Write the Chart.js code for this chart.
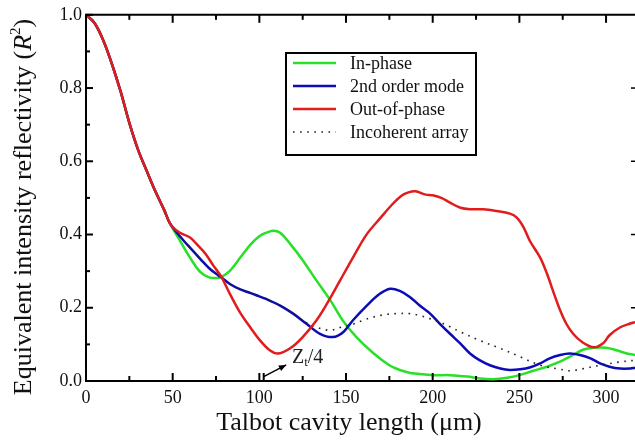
<!DOCTYPE html>
<html>
<head>
<meta charset="utf-8">
<script src="https://cdn.jsdelivr.net/npm/chart.js@4.4.1/dist/chart.umd.min.js"></script>
<style>
html,body{margin:0;padding:0;background:#fff;}
canvas{display:block;}
</style>
</head>
<body>
<canvas id="c" width="635" height="440"></canvas>
<script>
// ---- data ----
const xTickValues = [0, 50, 100, 150, 200, 250, 300];
const xTickLabels = ["0", "50", "100", "150", "200", "250", "300"];
const yTickValues = [0, 0.2, 0.4, 0.6, 0.8, 1.0];
const yTickLabels = ["0.0", "0.2", "0.4", "0.6", "0.8", "1.0"];

const sharedX = [0, 5, 10, 15, 20, 25, 30, 35, 40, 45, 48];
const sharedY = [1.0, 0.977, 0.93, 0.865, 0.79, 0.705, 0.632, 0.574, 0.518, 0.468, 0.434];

const inPhaseX = [...sharedX, 50,54,60,66,71,75,78,83,89,95, 100,104,108,112,118,125,133,141,148,156, 166,175,181,187,191,200,210,220,227,235, 243,250,258,266,273,281,287,293,300,306, 312,317];
const inPhaseY = [...sharedY, 0.417,0.385,0.337,0.297,0.283,0.281,0.284,0.301,0.337,0.373, 0.395,0.405,0.410,0.405,0.373,0.330,0.274,0.220,0.166,0.120, 0.075,0.043,0.030,0.022,0.020,0.016,0.016,0.012,0.007,0.005, 0.009,0.016,0.028,0.039,0.052,0.071,0.086,0.091,0.091,0.084, 0.075,0.071];

const secondOrderX = [...sharedX, 50,54,60,66,71.5,78,83,89,95,100, 104,112,119.5,127,135,142.5,148.5,154,162,169.5, 175.5,181,187,192.5,198.5,204,210,216,221.5,227, 233,239,244.5,250.5,256,262,267.5,273.5,279,285, 291,296.5,302,308,314,317];
const secondOrderY = [...sharedY, 0.420,0.396,0.364,0.333,0.306,0.283,0.265,0.250,0.240,0.231, 0.224,0.206,0.184,0.157,0.129,0.120,0.134,0.166,0.206,0.238, 0.252,0.246,0.229,0.206,0.184,0.157,0.129,0.102,0.075,0.057, 0.043,0.034,0.030,0.032,0.037,0.048,0.062,0.071,0.075,0.071, 0.062,0.048,0.039,0.034,0.034,0.036];

const outOfPhaseX = [...sharedX, 50,54,60,64,69,73.5,78,83,89,95, 100,106,111,118,125,133,139,146.5,154,162, 170,177,182,186,190,196,200,205,210,216, 221.5,229,237,244.5,248.5,252.5,256,262,266,270, 273.5,277,281,286,293,298.5,302,308,314,317];
const outOfPhaseY = [...sharedY, 0.420,0.405,0.392,0.373,0.347,0.315,0.285,0.238,0.186,0.145, 0.113,0.084,0.075,0.090,0.120,0.166,0.211,0.274,0.337,0.401, 0.446,0.484,0.506,0.515,0.518,0.509,0.507,0.500,0.487,0.473, 0.469,0.469,0.464,0.457,0.446,0.419,0.383,0.337,0.292,0.238, 0.193,0.157,0.129,0.107,0.092,0.104,0.125,0.146,0.157,0.161];

const incoherentX = [...sharedX, 50,54,60,66,71.5,78,83,89,95,100, 104,112,119.5,125,129,134,139,142,146.5,154, 160,166,172,179,187,192.5,198,204,210,216, 227,239,250.5,262,273.5,279,285,296.5,308,317];
const incoherentY = [...sharedY, 0.420,0.396,0.364,0.333,0.306,0.283,0.265,0.250,0.240,0.231, 0.224,0.206,0.184,0.165,0.155,0.145,0.139,0.139,0.146,0.155, 0.166,0.175,0.181,0.184,0.184,0.179,0.171,0.161,0.148,0.134, 0.111,0.089,0.066,0.043,0.032,0.028,0.032,0.043,0.052,0.057];

const seriesLabels = ["In-phase", "2nd order mode", "Out-of-phase", "Incoherent array"];
const markerX = 102.5;           // Zt/4 position on the x axis
const markerLabel = ["Z", "t", "/4"];
const xTitle = "Talbot cavity length (\u03bcm)";
const yTitleParts = ["Equivalent intensity reflectivity (", "R", "2", ")"];

// ---- build ----
const zip = (xs, ys) => xs.map((v, i) => ({x: v, y: ys[i]}));
const SERIF = "'Liberation Serif', 'Times New Roman', serif";
const colors = ["#27e027", "#0b0bb8", "#e01c1c", "#222222"];

const datasets = [
  {label: seriesLabels[0], data: zip(inPhaseX, inPhaseY), borderColor: colors[0], borderWidth: 2.5, order: 3},
  {label: seriesLabels[1], data: zip(secondOrderX, secondOrderY), borderColor: colors[1], borderWidth: 2.5, order: 2},
  {label: seriesLabels[2], data: zip(outOfPhaseX, outOfPhaseY), borderColor: colors[2], borderWidth: 2.5, order: 0},
  {label: seriesLabels[3], data: zip(incoherentX, incoherentY), borderColor: colors[3], borderWidth: 1.6, borderDash: [1.6, 5.5], order: 1}
].map(d => Object.assign(d, {pointRadius: 0, fill: false, tension: 0.35}));

function seg(ctx, x1, y1, x2, y2) { ctx.beginPath(); ctx.moveTo(x1, y1); ctx.lineTo(x2, y2); ctx.stroke(); }

const deco = {
  id: 'deco',
  afterDraw(chart) {
    const {ctx, chartArea: a, scales: {x, y}} = chart;
    ctx.save();
    ctx.strokeStyle = '#000';
    ctx.fillStyle = '#000';
    ctx.lineWidth = 2;
    // top axis line
    seg(ctx, a.left - 1, a.top, a.right, a.top);
    // x ticks (bottom & top, inward)
    for (let v = 0; v <= 325; v += 25) {
      const px = x.getPixelForValue(v);
      if (px > a.right + 1) continue;
      const len = (v % 50 === 0) ? 8 : 5;
      seg(ctx, px, a.bottom, px, a.bottom - len);
      seg(ctx, px, a.top, px, a.top + len);
    }
    // y ticks (left, inward) + right-edge stubs
    for (let i = 0; i <= 10; i++) {
      const v = i / 10;
      const py = y.getPixelForValue(v);
      const len = (i % 2 === 0) ? 7 : 4;
      seg(ctx, a.left, py, a.left + len, py);
      if (i % 2 === 0 && i > 0 && i < 10) { ctx.lineWidth = 1.5; seg(ctx, a.right - 4, py, a.right, py); ctx.lineWidth = 2; }
    }
    // Zt/4 marker tick + arrow
    const mx = x.getPixelForValue(markerX);
    seg(ctx, mx, a.bottom, mx, a.bottom - 8);
    const ax1 = mx, ay1 = y.getPixelForValue(0.012);
    const ax2 = x.getPixelForValue(115.5), ay2 = y.getPixelForValue(0.044);
    ctx.lineWidth = 1.5;
    seg(ctx, ax1, ay1, ax2, ay2);
    const ang = Math.atan2(ay2 - ay1, ax2 - ax1);
    ctx.beginPath();
    ctx.moveTo(ax2, ay2);
    ctx.lineTo(ax2 - 8 * Math.cos(ang - 0.4), ay2 - 8 * Math.sin(ang - 0.4));
    ctx.lineTo(ax2 - 8 * Math.cos(ang + 0.4), ay2 - 8 * Math.sin(ang + 0.4));
    ctx.closePath(); ctx.fill();
    // Zt/4 text
    let tx = x.getPixelForValue(118.8), ty = y.getPixelForValue(0.049);
    ctx.textBaseline = 'alphabetic'; ctx.textAlign = 'left';
    ctx.font = `20px ${SERIF}`; ctx.fillStyle = '#222';
    ctx.fillText(markerLabel[0], tx, ty); tx += ctx.measureText(markerLabel[0]).width;
    ctx.font = `13px ${SERIF}`; ctx.fillText(markerLabel[1], tx, ty + 3); tx += ctx.measureText(markerLabel[1]).width;
    ctx.font = `20px ${SERIF}`; ctx.fillText(markerLabel[2], tx, ty);
    // legend
    ctx.fillStyle = '#000';
    ctx.lineWidth = 2;
    ctx.strokeRect(286, 53, 190, 102);
    const rows = [63, 86, 109, 132];
    chart.data.datasets.forEach((d, i) => {
      ctx.save();
      ctx.strokeStyle = d.borderColor; ctx.lineWidth = d.borderWidth;
      if (d.borderDash) ctx.setLineDash(d.borderDash);
      seg(ctx, 293, rows[i], 336, rows[i]);
      ctx.restore();
      ctx.font = `18px ${SERIF}`; ctx.fillStyle = '#111'; ctx.textBaseline = 'middle';
      ctx.fillText(d.label, 350, rows[i] + 1);
    });
    // x title
    ctx.textBaseline = 'alphabetic'; ctx.textAlign = 'center';
    ctx.font = `26px ${SERIF}`; ctx.fillStyle = '#111';
    ctx.fillText(xTitle, 349, 430);
    // y title (rotated, italic R with superscript)
    ctx.save();
    ctx.translate(31, 207); ctx.rotate(-Math.PI / 2);
    ctx.textAlign = 'left';
    const fN = `26px ${SERIF}`, fI = `italic 26px ${SERIF}`, fS = `15px ${SERIF}`;
    const fonts = [fN, fI, fS, fN];
    const dy = [0, 0, -11, 0];
    let widths = yTitleParts.map((t, i) => { ctx.font = fonts[i]; return ctx.measureText(t).width; });
    let total = widths.reduce((s, w) => s + w, 0);
    let cx = -total / 2;
    yTitleParts.forEach((t, i) => { ctx.font = fonts[i]; ctx.fillText(t, cx, dy[i]); cx += widths[i]; });
    ctx.restore();
    ctx.restore();
  }
};

new Chart(document.getElementById('c'), {
  type: 'line',
  data: {datasets},
  plugins: [deco],
  options: {
    responsive: false,
    devicePixelRatio: 1,
    animation: false,
    layout: {padding: {top: 12, right: 0, left: 0, bottom: 0}},
    plugins: {legend: {display: false}, tooltip: {enabled: false}},
    scales: {
      x: {
        type: 'linear', min: 0, max: 316.7,
        grid: {display: false, drawTicks: false},
        border: {display: true, color: '#000', width: 2},
        afterBuildTicks: s => { s.ticks = xTickValues.map(v => ({value: v})); },
        afterFit: s => { s.height = 59; },
        ticks: {
          padding: 6, color: '#111', font: {family: SERIF, size: 18}, maxRotation: 0,
          callback: (v) => xTickLabels[xTickValues.indexOf(v)]
        }
      },
      y: {
        type: 'linear', min: 0, max: 1,
        grid: {display: false, drawTicks: false},
        border: {display: true, color: '#000', width: 2},
        afterBuildTicks: s => { s.ticks = yTickValues.map(v => ({value: v})); },
        afterFit: s => { s.width = 86; },
        ticks: {
          padding: 4, color: '#111', font: {family: SERIF, size: 18},
          callback: (v) => yTickLabels[yTickValues.indexOf(v)]
        }
      }
    }
  }
});
</script>
</body>
</html>
